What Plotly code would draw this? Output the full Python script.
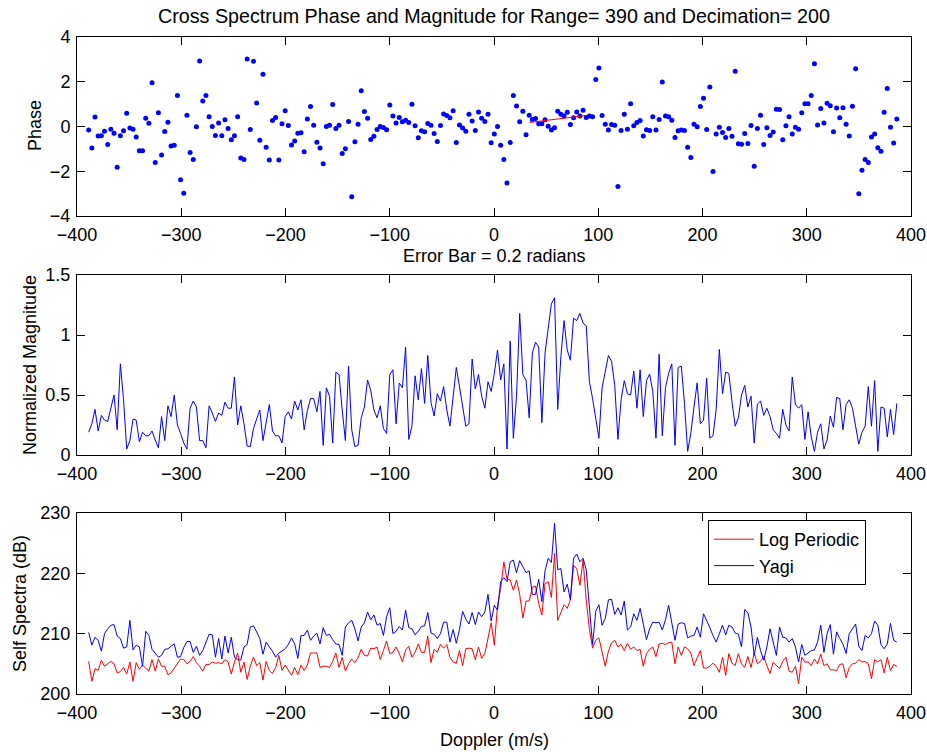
import plotly.graph_objects as go

# ---- data ----
N_POINTS = 256
DOPPLER_START = -388.8
DOPPLER_STEP = 3.04
doppler = [round(DOPPLER_START + DOPPLER_STEP * k, 2) for k in range(N_POINTS)]

phase = [
    -0.16, -0.96, 0.43, -0.43, -0.41, -0.21, -0.80, -0.12, -0.30, -1.82,
    -0.41, -0.19, 0.59, -0.07, -0.12, -0.47, -1.08, -1.08, 0.37, 0.15,
    1.96, -1.61, 0.62, -1.27, -0.22, 0.19, -0.87, -0.84, 1.38, -2.38,
    -2.98, 0.50, -1.16, -1.47, -0.01, 2.93, 1.14, 1.39, 0.44, 0.00,
    -0.40, 0.16, -0.41, 0.30, -0.09, -0.59, -0.41, 0.44, -1.41, -1.48,
    3.02, -0.13, 2.92, 1.05, -0.62, 2.34, -0.93, -1.50, 0.27, 0.40,
    -1.50, 0.12, 0.70, 0.04, -0.83, -0.65, -0.30, -0.28, -1.13, 0.34,
    0.89, 0.06, -0.70, -0.96, -1.67, 0.00, 0.06, 0.98, -0.09, 0.06,
    -1.21, -0.99, 0.22, -3.14, -0.68, 0.10, 1.60, 0.67, 0.37, -0.58,
    -0.44, -0.13, 0.00, -0.04, -0.15, 0.96, 0.47, 0.16, 0.40, 0.21,
    0.28, 0.18, 0.99, 0.03, -0.50, -0.19, -0.24, 0.13, 0.06, -0.31,
    -0.67, 0.04, 0.56, 0.49, 0.39, 0.70, -0.71, 0.07, -0.07, -0.21,
    0.55, 0.25, -0.18, 0.65, 0.37, 0.22, 0.55, -0.73, -0.33, 0.00,
    -0.84, -1.47, -2.52, -0.71, 1.38, 0.92, 0.21, 0.68, -0.37, 0.50,
    0.31, 0.36, 0.12, 0.12, 0.30, 0.01, -0.16, -0.06, 0.68, 0.55,
    0.47, 0.64, 0.09, 0.39, 0.65, 0.47, 0.73, 0.40, 0.47, 0.44,
    2.10, 2.61, 0.49, 0.10, -0.16, 0.09, 0.06, -2.68, -0.18, 0.55,
    -0.12, 1.02, 0.03, 0.18, 0.27, -0.43, -0.15, -0.18, 0.44, -0.16,
    0.31, 1.99, 0.47, 0.44, 0.28, -0.49, -0.19, -0.16, -0.18, -0.93,
    -1.38, 0.10, -0.01, 0.89, 1.26, -0.13, 1.76, -2.01, -0.34, -0.03,
    -0.27, -0.49, -0.09, -0.44, 2.47, -0.77, -0.79, -0.31, -0.76, 0.04,
    -1.78, -0.09, 0.50, -0.81, -0.06, -0.40, -0.25, 0.77, 0.76, -0.59,
    0.03, 0.44, -0.33, -0.03, -0.12, 0.62, 1.02, 1.02, 1.39, 2.80,
    0.07, 0.81, 0.16, 1.04, 0.93, -0.24, 0.83, 0.39, 0.84, 0.10,
    -0.43, 0.90, 2.58, -3.01, -1.96, -1.47, -1.61, -0.47, -0.34, -0.95,
    -1.11, 0.64, 1.70, -0.03, -0.74, 0.33,
]

error_bar_x = [34, 88]
error_bar_y = [0.18, 0.49]

magnitude = [
    0.19, 0.26, 0.38, 0.20, 0.33, 0.29, 0.28, 0.40, 0.50, 0.21,
    0.76, 0.46, 0.05, 0.12, 0.30, 0.29, 0.11, 0.19, 0.16, 0.16,
    0.20, 0.125, 0.06, 0.32, 0.12, 0.41, 0.32, 0.50, 0.25, 0.18,
    0.10, 0.05, 0.39, 0.45, 0.40, 0.12, 0.12, 0.06, 0.41, 0.35,
    0.28, 0.35, 0.33, 0.44, 0.39, 0.39, 0.65, 0.25, 0.41, 0.26,
    0.075, 0.07, 0.22, 0.30, 0.375, 0.12, 0.26, 0.42, 0.20, 0.16,
    0.16, 0.10, 0.32, 0.36, 0.30, 0.45, 0.375, 0.46, 0.21, 0.37,
    0.47, 0.47, 0.36, 0.53, 0.08, 0.56, 0.49, 0.10, 0.69, 0.67,
    0.375, 0.12, 0.74, 0.21, 0.07, 0.08, 0.31, 0.40, 0.625, 0.54,
    0.375, 0.31, 0.41, 0.22, 0.18, 0.67, 0.71, 0.26, 0.60, 0.56,
    0.90, 0.13, 0.24, 0.66, 0.46, 0.72, 0.43, 0.83, 0.44, 0.325,
    0.51, 0.45, 0.57, 0.375, 0.24, 0.50, 0.73, 0.57, 0.40, 0.24,
    0.26, 0.80, 0.55, 0.67, 0.49, 0.39, 0.61, 0.53, 0.68, 0.875,
    0.625, 0.76, 0.05, 0.95, 0.14, 0.49, 1.18, 0.67, 0.625, 0.31,
    0.85, 0.94, 0.90, 0.27, 0.85, 1.08, 1.26, 1.31, 0.38, 0.82,
    1.12, 0.875, 0.79, 1.14, 1.12, 1.18, 1.10, 1.075, 0.61, 0.47,
    0.29, 0.14, 0.56, 0.71, 0.83, 0.78, 0.58, 0.13, 0.46, 0.62,
    0.51, 0.50, 0.70, 0.39, 0.71, 0.32, 0.62, 0.675, 0.53, 0.14,
    0.84, 0.16, 0.56, 0.68, 0.76, 0.08, 0.73, 0.74, 0.43, 0.03,
    0.18, 0.40, 0.60, 0.26, 0.29, 0.64, 0.14, 0.16, 0.38, 0.88,
    0.51, 0.69, 0.68, 0.44, 0.24, 0.31, 0.50, 0.58, 0.40, 0.49,
    0.10, 0.425, 0.45, 0.33, 0.39, 0.32, 0.21, 0.18, 0.14, 0.38,
    0.25, 0.20, 0.65, 0.42, 0.39, 0.42, 0.13, 0.36, 0.15, 0.03,
    0.19, 0.26, 0.05, 0.125, 0.325, 0.23, 0.48, 0.47, 0.21, 0.42,
    0.46, 0.39, 0.24, 0.09, 0.19, 0.24, 0.57, 0.24, 0.62, 0.03,
    0.40, 0.39, 0.15, 0.38, 0.17, 0.43,
]

log_periodic = [
    205.4, 202.1, 204.2, 203.9, 205.6, 204.6, 205.0, 205.4, 205.0, 203.5,
    203.7, 204.4, 203.3, 205.3, 202.1, 205.2, 204.1, 204.8, 204.3, 203.8,
    205.7, 203.8, 205.8, 204.6, 204.6, 203.2, 203.5, 204.2, 205.0, 205.8,
    205.7, 205.0, 205.4, 206.2, 205.2, 204.6, 203.8, 204.9, 204.9, 205.3,
    205.1, 205.2, 205.0, 205.7, 205.3, 203.3, 205.3, 206.8, 203.6, 205.3,
    202.4, 204.6, 206.1, 204.7, 205.2, 202.3, 205.4, 203.9, 203.4, 204.4,
    206.4, 203.9, 204.8, 203.9, 203.1, 204.4, 203.2, 204.8, 203.9, 204.8,
    206.8, 206.8, 206.8, 204.4, 204.6, 204.6, 204.4, 205.4, 206.8, 204.4,
    206.1, 203.8, 205.0, 205.8, 205.2, 206.0, 207.4, 206.4, 206.3, 207.6,
    207.5, 207.8, 205.7, 207.2, 208.8, 206.7, 206.9, 207.8, 206.7, 205.3,
    207.3, 207.9, 206.1, 206.9, 208.3, 206.9, 206.9, 209.6, 205.2, 207.4,
    206.9, 208.2, 207.6, 208.2, 206.1, 205.3, 205.1, 207.2, 204.7, 207.5,
    207.6, 207.5, 205.7, 207.8, 205.9, 206.7, 209.3, 211.8, 208.1, 214.6,
    217.5, 221.9, 219.0, 218.9, 217.2, 218.9, 216.5, 212.6, 215.4, 215.4,
    217.7, 217.9, 215.0, 213.1, 218.3, 218.6, 216.0, 223.3, 212.2, 213.4,
    214.8, 214.2, 215.6, 221.3, 220.8, 218.0, 222.2, 215.6, 210.7, 207.6,
    208.9, 209.3, 207.2, 204.6, 207.1, 208.5, 208.9, 207.8, 208.2, 207.2,
    208.4, 207.4, 207.8, 207.2, 207.4, 204.6, 206.7, 207.4, 207.8, 206.2,
    208.3, 208.4, 208.2, 208.5, 208.6, 205.0, 207.8, 206.4, 207.8, 207.5,
    206.8, 204.7, 206.0, 207.2, 204.3, 204.3, 204.6, 205.1, 204.6, 203.6,
    206.1, 203.1, 206.7, 205.1, 204.7, 206.7, 205.0, 204.4, 206.2, 204.4,
    206.8, 205.0, 205.4, 206.2, 204.7, 203.4, 205.3, 204.7, 204.2, 205.4,
    206.1, 203.8, 203.6, 204.6, 201.7, 206.1, 205.3, 205.3, 204.7, 205.8,
    205.0, 206.6, 204.7, 205.0, 204.0, 204.0, 203.9, 204.9, 205.0, 202.7,
    204.4, 205.0, 205.1, 205.7, 205.3, 205.4, 205.0, 202.5, 205.7, 205.3,
    205.7, 203.5, 206.1, 203.9, 204.9, 204.6,
]

yagi = [
    210.2, 208.1, 209.4, 208.9, 207.1, 210.0, 210.8, 211.4, 211.5, 209.6,
    209.2, 207.6, 207.8, 212.2, 207.3, 208.1, 207.8, 204.6, 210.4, 209.7,
    207.4, 206.8, 206.1, 206.4, 207.4, 207.5, 207.9, 208.3, 206.1, 206.2,
    207.7, 208.7, 208.7, 206.9, 207.9, 206.4, 207.2, 208.6, 209.9, 209.8,
    206.1, 209.2, 205.8, 209.6, 206.8, 209.4, 206.1, 205.7, 205.6, 207.8,
    208.2, 211.1, 211.3, 210.3, 209.2, 206.6, 208.6, 207.8, 207.1, 206.1,
    206.8, 207.1, 207.5, 208.2, 209.3, 208.3, 205.9, 209.7, 209.7, 210.6,
    208.9, 209.6, 210.1, 208.3, 211.0, 209.7, 209.9, 209.0, 208.3, 208.2,
    206.4, 211.1, 211.8, 212.2, 210.8, 208.8, 211.1, 211.8, 213.6, 212.3,
    213.1, 211.4, 211.7, 209.7, 212.8, 214.3, 210.0, 210.4, 211.2, 210.6,
    213.9, 211.0, 210.8, 209.8, 210.4, 211.2, 211.3, 213.5, 210.1, 209.9,
    209.2, 210.0, 211.9, 211.9, 208.6, 210.7, 208.4, 210.7, 213.7, 212.4,
    211.6, 213.5, 211.5, 213.6, 212.8, 213.6, 216.5, 212.1, 214.7, 213.9,
    218.6, 219.3, 218.6, 221.9, 222.2, 220.1, 222.1, 221.1, 220.1, 220.4,
    216.5, 216.5, 219.0, 215.3, 220.4, 222.5, 221.8, 228.3, 220.6, 220.8,
    216.9, 218.2, 215.6, 222.5, 223.2, 221.9, 222.5, 220.6, 213.9, 208.2,
    213.7, 214.8, 211.4, 212.5, 215.6, 215.7, 213.2, 214.3, 213.1, 215.4,
    210.6, 211.1, 213.3, 212.2, 214.2, 211.4, 209.0, 210.8, 211.9, 211.8,
    211.9, 210.6, 212.3, 214.7, 212.1, 208.9, 211.6, 211.8, 211.7, 209.3,
    209.6, 209.7, 211.1, 209.4, 213.3, 212.2, 211.0, 209.7, 208.6, 210.0,
    211.4, 209.8, 211.4, 211.1, 210.1, 209.9, 207.8, 214.0, 213.5, 211.1,
    206.4, 209.4, 207.2, 205.6, 207.8, 210.8, 208.3, 206.4, 211.1, 209.4,
    209.3, 208.6, 209.2, 207.8, 205.3, 208.2, 206.4, 206.8, 207.2, 207.3,
    208.6, 211.4, 206.9, 210.0, 211.5, 206.6, 210.3, 209.2, 208.3, 206.7,
    210.0, 210.8, 211.6, 207.9, 207.2, 209.7, 209.3, 210.0, 212.1, 211.4,
    208.2, 207.5, 208.3, 211.7, 208.9, 208.6,
]

x_ticks = [-400, -300, -200, -100, 0, 100, 200, 300, 400]
phase_ticks = [-4, -2, 0, 2, 4]
mag_ticks = [0, 0.5, 1, 1.5]
spec_ticks = [200, 210, 220, 230]

title_text = "Cross Spectrum Phase and Magnitude for Range= 390 and Decimation= 200"

# ---- figure ----
FONT = "Liberation Sans, Arial, Helvetica, sans-serif"
FS = 18
L, R, T, B = 77, 16, 37, 58
W, H = 927, 752
PH = H - T - B


def py(p):
    return (H - B - p) / PH


def px(p):
    return (p - L) / (W - L - R)


fig = go.Figure()

fig.add_trace(go.Scatter(
    x=doppler, y=phase, mode="markers", xaxis="x", yaxis="y",
    marker=dict(color="#0000ff", size=5, line=dict(width=0)),
    showlegend=False))
fig.add_trace(go.Scatter(
    x=error_bar_x, y=error_bar_y, mode="lines", xaxis="x", yaxis="y",
    line=dict(color="#ff0000", width=1), showlegend=False))

fig.add_trace(go.Scatter(
    x=doppler, y=magnitude, mode="lines", xaxis="x2", yaxis="y2",
    line=dict(color="#0000ff", width=1), showlegend=False))

fig.add_trace(go.Scatter(
    x=doppler, y=log_periodic, mode="lines", xaxis="x3", yaxis="y3",
    name="Log Periodic", line=dict(color="#ff0000", width=1)))
fig.add_trace(go.Scatter(
    x=doppler, y=yagi, mode="lines", xaxis="x3", yaxis="y3",
    name="Yagi", line=dict(color="#0000ff", width=1)))

axis_common = dict(
    showline=True, linecolor="black", linewidth=1, mirror="ticks",
    ticks="inside", ticklen=8, tickcolor="black", tickwidth=1,
    showgrid=False, zeroline=False, ticklabelstandoff=2, automargin=False,
    tickfont=dict(family=FONT, size=FS, color="black"),
)

d_top = [py(216), 1.0]
d_mid = [py(455), py(275)]
d_bot = [0.0, py(513)]

layout = dict(
    width=W, height=H, autosize=False,
    margin=dict(l=L, r=R, t=T, b=B, autoexpand=False),
    paper_bgcolor="white", plot_bgcolor="white",
    font=dict(family=FONT, size=FS, color="black"),
    xaxis=dict(axis_common, range=[-400, 400], tickvals=x_ticks, anchor="y"),
    yaxis=dict(axis_common, range=[-4, 4], tickvals=phase_ticks, domain=d_top, anchor="x"),
    xaxis2=dict(axis_common, range=[-400, 400], tickvals=x_ticks, anchor="y2"),
    yaxis2=dict(axis_common, range=[0, 1.5], tickvals=mag_ticks,
                ticktext=["0", "0.5", "1", "1.5"], domain=d_mid, anchor="x2"),
    xaxis3=dict(axis_common, range=[-400, 400], tickvals=x_ticks, anchor="y3"),
    yaxis3=dict(axis_common, range=[200, 230], tickvals=spec_ticks, domain=d_bot, anchor="x3"),
    legend=dict(
        x=px(708), y=py(520), xanchor="left", yanchor="top",
        bordercolor="black", borderwidth=1, bgcolor="white",
        font=dict(family=FONT, size=FS, color="black"),
        tracegroupgap=0, itemwidth=40,
    ),
    annotations=[
        dict(text=title_text, x=0.5, y=py(16), xref="paper", yref="paper",
             showarrow=False, xanchor="center", yanchor="middle",
             font=dict(family=FONT, size=19.7)),
        dict(text="Error Bar = 0.2 radians", x=0.5, y=py(256), xref="paper", yref="paper",
             showarrow=False, xanchor="center", yanchor="middle",
             font=dict(family=FONT, size=FS)),
        dict(text="Doppler (m/s)", x=0.5, y=py(740), xref="paper", yref="paper",
             showarrow=False, xanchor="center", yanchor="middle",
             font=dict(family=FONT, size=FS)),
        dict(text="Phase", x=px(35), y=py(126), xref="paper", yref="paper",
             showarrow=False, xanchor="center", yanchor="middle", textangle=-90,
             font=dict(family=FONT, size=FS)),
        dict(text="Normalized Magnitude", x=px(30), y=py(365), xref="paper", yref="paper",
             showarrow=False, xanchor="center", yanchor="middle", textangle=-90,
             font=dict(family=FONT, size=FS)),
        dict(text="Self Spectra (dB)", x=px(20), y=py(603), xref="paper", yref="paper",
             showarrow=False, xanchor="center", yanchor="middle", textangle=-90,
             font=dict(family=FONT, size=FS)),
    ],
)
fig.update_layout(layout)

fig.write_html("out.html", config={"displayModeBar": False},
               post_script="document.body.style.margin='0';")
